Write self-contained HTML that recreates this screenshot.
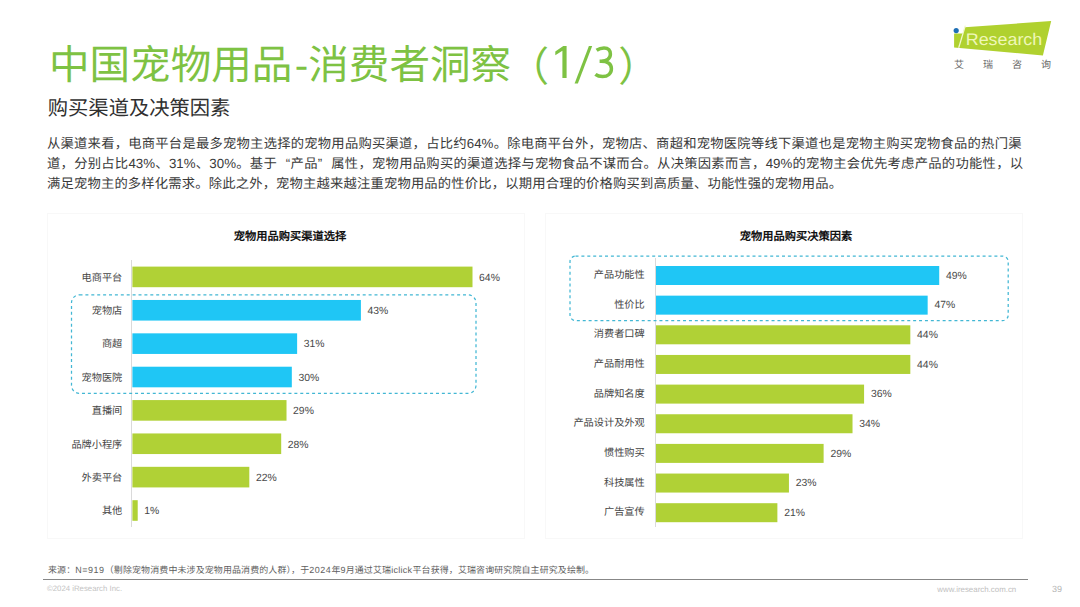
<!DOCTYPE html>
<html lang="zh-CN">
<head>
<meta charset="utf-8">
<title>中国宠物用品-消费者洞察（1/3）</title>
<style>
*{margin:0;padding:0;box-sizing:border-box;}
html,body{width:1080px;height:607px;background:#fff;overflow:hidden;}
body{font-family:"Liberation Sans",sans-serif;position:relative;color:#333;text-rendering:geometricPrecision;}
.abs{position:absolute;white-space:nowrap;}
.title{left:49px;top:35.8px;font-size:40.55px;line-height:58px;color:#7ec243;font-weight:300;}
.title span{display:inline-block;}
.t2{margin-left:2.5px;margin-right:0px;}
.t4{margin-left:-2.5px;}
.t5{margin-left:1.5px;letter-spacing:0.8px;font-size:44px;color:transparent;}
.t4,.t6{position:relative;top:1.8px;}
.t6{margin-left:4px;}
.sub{left:47.8px;top:95px;font-size:20.3px;line-height:28px;color:#303030;}
.para{left:47px;font-size:13.3px;line-height:20px;color:#3a3a3a;text-align:justify;text-align-last:justify;white-space:nowrap;}
.ql,.qr{display:inline-block;width:1em;text-align-last:auto;}
.ql{text-align:right;}
.qr{text-align:left;}
.panel{position:absolute;border:1px solid #f8f8f8;background:#fff;}
.ctitle{font-size:11.25px;font-weight:bold;color:#111;line-height:16px;transform:translateX(-50%);}
.axis{position:absolute;width:1px;background:#dadada;}
.bar{position:absolute;}
.g{background:#b0d136;fill:#b0d136;}
.b{background:#1fc6f5;fill:#1fc6f5;}
.lab{font-size:10.2px;line-height:14px;color:#444;text-align:right;}
.val{font-size:10.4px;line-height:14px;color:#484848;}
.dash{position:absolute;}
.src{left:48px;top:563px;font-size:8.96px;line-height:14px;color:#5e5e5e;width:546px;text-align:justify;text-align-last:justify;}
.ls{letter-spacing:0.55px;}
.ls2{letter-spacing:0.3px;}
.hr{position:absolute;left:43px;top:578.7px;width:985.3px;height:1.7px;background:#878787;}
.copy{left:47px;top:583px;font-size:7.8px;line-height:12px;color:#c4c4c4;}
.www{left:937.3px;top:583.9px;font-size:7.9px;line-height:12px;color:#c0c0c0;}
.pg{left:1052px;top:583px;font-size:9px;line-height:12px;color:#b5b5b5;}
</style>
</head>
<body>

<div class="abs title"><span class="t1">中国宠物用品</span><span class="t2">-</span><span class="t3">消费者洞察</span><span class="t4">（</span><span class="t5">1/3</span><span class="t6">）</span></div>
<svg class="abs" style="left:550px;top:40px;" width="70" height="50" viewBox="550 40 70 50">
  <polygon points="566.6,46.1 563.3,46.1 555.3,51.4 555.3,55.2 562.4,50.7 562.4,78 566.6,78" fill="#7ec243"/>
  <polygon points="588.9,46.1 592.2,46.1 577.9,83.4 574.6,83.4" fill="#7ec243"/>
  <path d="M596.6 50.3 Q600 47.9 604 47.9 C608.6 47.9 610.4 50.9 610.4 54 C610.4 58.4 606.8 61.2 601.2 61.2 L599.6 61.2 M601.2 61.2 C607.8 61.2 611.4 64.2 611.4 68.7 C611.4 73.5 607.7 76.5 602.6 76.5 C599.6 76.5 597.2 75.7 595.4 74.3" fill="none" stroke="#7ec243" stroke-width="3.5"/>
</svg>
<div class="abs sub">购买渠道及决策因素</div>

<div class="abs para" id="p1" style="top:134.4px;width:974.5px;">从渠道来看，电商平台是最多宠物主选择的宠物用品购买渠道，占比约64%。除电商平台外，宠物店、商超和宠物医院等线下渠道也是宠物主购买宠物食品的热门渠</div>
<div class="abs para" id="p2" style="top:154px;width:976px;">道，分别占比43%、31%、30%。基于<span class="ql">“</span>产品<span class="qr">”</span>属性，宠物用品购买的渠道选择与宠物食品不谋而合。从决策因素而言，49%的宠物主会优先考虑产品的功能性，以</div>
<div class="abs para" id="p3" style="top:174.1px;width:795px;">满足宠物主的多样化需求。除此之外，宠物主越来越注重宠物用品的性价比，以期用合理的价格购买到高质量、功能性强的宠物用品。</div>

<!-- logo -->
<svg class="abs" style="left:940px;top:10px;" width="130" height="70" viewBox="940 10 130 70">
  <polygon points="964.7,27.3 1051.2,21 1042.9,55.5 954.1,47.4 954.1,33.6 962.7,33.6" fill="#b0d12f"/>
  <line x1="965.3" y1="25.6" x2="958.7" y2="47.9" stroke="#f2f9cc" stroke-width="1.3"/>
  <circle cx="956.2" cy="30.6" r="2.6" fill="#1f6fb5"/>
  <text x="965.8" y="45.4" font-family="Liberation Sans, sans-serif" font-size="16.8" fill="#eff7b8" textLength="76.4" lengthAdjust="spacingAndGlyphs">Research</text>
  <g font-family="Liberation Sans, sans-serif" font-size="10" fill="#6a6a6a">
    <text x="954" y="68.3">艾</text>
    <text x="983" y="68.3">瑞</text>
    <text x="1012" y="68.3">咨</text>
    <text x="1041" y="68.3">询</text>
  </g>
</svg>

<!-- LEFT CHART -->
<div class="panel" style="left:47px;top:213px;width:478px;height:326px;"></div>
<div class="abs ctitle" style="left:290px;top:228.5px;">宠物用品购买渠道选择</div>
<div class="axis" style="left:131.4px;top:260px;height:267px;"></div>
<div id="lc">
<svg class="dash" style="left:0;top:0;" width="1080" height="607">
<rect class="g" x="132.4" y="266.60" width="340.10" height="20.6"/>
<rect class="b" x="132.4" y="299.97" width="228.50" height="20.6"/>
<rect class="b" x="132.4" y="333.34" width="164.73" height="20.6"/>
<rect class="b" x="132.4" y="366.71" width="159.42" height="20.6"/>
<rect class="g" x="132.4" y="400.08" width="154.11" height="20.6"/>
<rect class="g" x="132.4" y="433.45" width="148.79" height="20.6"/>
<rect class="g" x="132.4" y="466.82" width="116.91" height="20.6"/>
<rect class="g" x="132.4" y="500.19" width="5.31" height="20.6"/>
</svg>
<div class="abs lab" style="right:957.7px;top:271.6px;">电商平台</div>
<div class="abs val" style="left:479.1px;top:271.6px;">64%</div>
<div class="abs lab" style="right:957.7px;top:305.0px;">宠物店</div>
<div class="abs val" style="left:367.5px;top:305.0px;">43%</div>
<div class="abs lab" style="right:957.7px;top:338.3px;">商超</div>
<div class="abs val" style="left:303.7px;top:338.3px;">31%</div>
<div class="abs lab" style="right:957.7px;top:371.7px;">宠物医院</div>
<div class="abs val" style="left:298.4px;top:371.7px;">30%</div>
<div class="abs lab" style="right:957.7px;top:405.1px;">直播间</div>
<div class="abs val" style="left:293.1px;top:405.1px;">29%</div>
<div class="abs lab" style="right:957.7px;top:438.5px;">品牌小程序</div>
<div class="abs val" style="left:287.8px;top:438.5px;">28%</div>
<div class="abs lab" style="right:957.7px;top:471.8px;">外卖平台</div>
<div class="abs val" style="left:255.9px;top:471.8px;">22%</div>
<div class="abs lab" style="right:957.7px;top:505.2px;">其他</div>
<div class="abs val" style="left:144.3px;top:505.2px;">1%</div>
</div><!--/lc-->

<!-- RIGHT CHART -->
<div class="panel" style="left:545px;top:213px;width:478px;height:326px;"></div>
<div class="abs ctitle" style="left:796px;top:228.5px;">宠物用品购买决策因素</div>
<div class="axis" style="left:655px;top:258px;height:269px;"></div>
<div id="rc">
<svg class="dash" style="left:0;top:0;" width="1080" height="607">
<rect class="b" x="656" y="266.00" width="283.22" height="19"/>
<rect class="b" x="656" y="295.65" width="271.66" height="19"/>
<rect class="g" x="656" y="325.30" width="254.32" height="19"/>
<rect class="g" x="656" y="354.95" width="254.32" height="19"/>
<rect class="g" x="656" y="384.60" width="208.08" height="19"/>
<rect class="g" x="656" y="414.25" width="196.52" height="19"/>
<rect class="g" x="656" y="443.90" width="167.62" height="19"/>
<rect class="g" x="656" y="473.55" width="132.94" height="19"/>
<rect class="g" x="656" y="503.20" width="121.38" height="19"/>
</svg>
<div class="abs lab" style="right:435.29999999999995px;top:269.1px;">产品功能性</div>
<div class="abs val" style="left:946.0px;top:269.8px;">49%</div>
<div class="abs lab" style="right:435.29999999999995px;top:298.8px;">性价比</div>
<div class="abs val" style="left:934.5px;top:299.4px;">47%</div>
<div class="abs lab" style="right:435.29999999999995px;top:328.4px;">消费者口碑</div>
<div class="abs val" style="left:917.1px;top:329.1px;">44%</div>
<div class="abs lab" style="right:435.29999999999995px;top:358.1px;">产品耐用性</div>
<div class="abs val" style="left:917.1px;top:358.8px;">44%</div>
<div class="abs lab" style="right:435.29999999999995px;top:387.7px;">品牌知名度</div>
<div class="abs val" style="left:870.9px;top:388.4px;">36%</div>
<div class="abs lab" style="right:435.29999999999995px;top:417.4px;">产品设计及外观</div>
<div class="abs val" style="left:859.3px;top:418.1px;">34%</div>
<div class="abs lab" style="right:435.29999999999995px;top:447.0px;">惯性购买</div>
<div class="abs val" style="left:830.4px;top:447.7px;">29%</div>
<div class="abs lab" style="right:435.29999999999995px;top:476.6px;">科技属性</div>
<div class="abs val" style="left:795.7px;top:477.3px;">23%</div>
<div class="abs lab" style="right:435.29999999999995px;top:506.3px;">广告宣传</div>
<div class="abs val" style="left:784.2px;top:507.0px;">21%</div>
</div><!--/rc-->

<!-- dashed highlight boxes -->
<svg class="dash" style="left:0;top:0;" width="1080" height="607">
  <rect x="71.5" y="294.8" width="404.5" height="98.6" rx="8" ry="8" fill="none" stroke="#42b7d4" stroke-width="1.25" stroke-dasharray="3 2.9"/>
  <rect x="570" y="256.1" width="438.2" height="64.5" rx="5.5" ry="5.5" fill="none" stroke="#42b7d4" stroke-width="1.25" stroke-dasharray="3 2.9"/>
</svg>

<!-- footer -->
<div class="abs src">来源：<span class="ls">N=919</span>（剔除宠物消费中未涉及宠物用品消费的人群），于<span class="ls">2024</span>年9月通过艾瑞<span class="ls2">iclick</span>平台获得，艾瑞咨询研究院自主研究及绘制。</div>
<div class="hr"></div>
<div class="abs copy">©2024 iResearch Inc.</div>
<div class="abs www">www.iresearch.com.cn</div>
<div class="abs pg">39</div>

</body>
</html>
